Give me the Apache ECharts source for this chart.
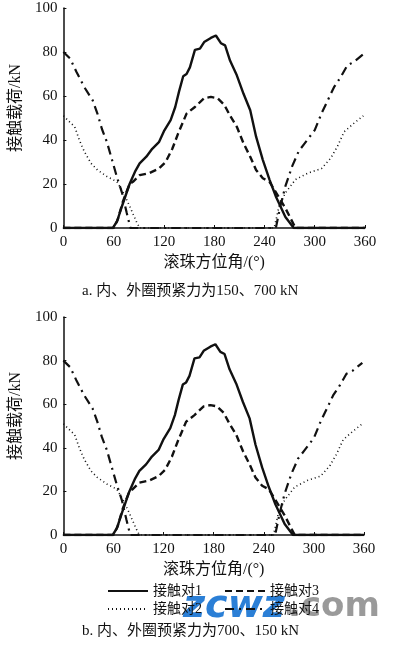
<!DOCTYPE html>
<html>
<head>
<meta charset="utf-8">
<script src="https://cdn.jsdelivr.net/npm/echarts@6/dist/echarts.min.js"></script>
<style>
  html, body { margin: 0; padding: 0; background: #fff; }
  #chart { width: 398px; height: 647px; }
</style>
</head>
<body>
<div id="chart"></div>
<script>
// 数据：[滚珠方位角(°), 接触载荷(kN)]
const pair1 = [[0,0],[59,0],[64,3],[70,10],[79,20],[86,26],[91,29.4],[99,32.4],[106,36],[114,39],[120,44],[128,49],[133.5,55],[138,62],[143,69],[147,70],[151,73],[157,81],[163,81.5],[168,84.5],[176,86.4],[182,87.5],[188,84],[193,83],[199,76],[207,69.4],[215,61],[223,53.5],[230,41.5],[238,31],[246,22],[254,14],[265,5],[275,0],[360,0]];
const pair3 = [[0,0],[60,0],[65,4],[71,12],[79,20],[83,21],[91,24],[103,25],[114,27],[122,30],[130,36],[137,43],[147,52],[157,55],[168,59],[176,59.6],[184,59],[192,56],[199,51],[207,46],[215,38.5],[223,32.4],[230,26.4],[238,22.6],[246,21],[254,16],[265,9],[277,0],[360,0]];
const pair2 = [[0,51],[8,48],[13.5,46],[19,40],[25,34.7],[33,29.4],[40.6,26.4],[52,23.4],[64,21],[71.6,16],[79,10],[87,3],[91,0],[251.6,0],[257.5,10],[265,16],[277,22],[292,25],[308,27],[319,31.7],[327,37],[335,43.7],[346.5,47.5],[358,51]];
const pair4 = [[0,80],[8,77],[15.5,71],[25,64],[35,58],[40.6,52],[46,45],[52,39],[58,31],[64,23],[70,16],[75.5,7],[80,0],[253.6,0],[259,10],[265,19],[273,28],[281,35],[288,38.5],[300,44.5],[308,52],[317.5,59.6],[323,64],[331,68.6],[339,74],[346.5,75.4],[358,79]];

const xTicks = [0, 60, 120, 180, 240, 300, 360];
const yTicks = [0, 20, 40, 60, 80, 100];
const names = ['接触对1', '接触对2', '接触对3', '接触对4'];
const captions = ['a. 内、外圈预紧力为150、700 kN', 'b. 内、外圈预紧力为700、150 kN'];

const numFont = 'Liberation Serif';
const cjkFont = '"Liberation Serif", "Noto Sans CJK SC"';

const chart = echarts.init(document.getElementById('chart'));

const styles = [
  { type: 'solid', width: 2.4 },
  { type: [1, 3], width: 1.6 },
  { type: [7, 4], width: 2.4 },
  { type: [9, 5, 2, 5], width: 2.2 }
];
const datas = [pair1, pair2, pair3, pair4];

function axisX(i) {
  return {
    gridIndex: i, type: 'value', min: 0, max: 360, interval: 60,
    name: '滚珠方位角/(°)', nameLocation: 'middle', nameGap: 27,
    nameTextStyle: { fontFamily: cjkFont, fontSize: 16, color: '#111' },
    axisLine: { lineStyle: { color: '#111', width: 1.5 } },
    axisTick: { inside: true, length: 3, lineStyle: { color: '#111' } },
    axisLabel: { fontFamily: numFont, fontSize: 15, color: '#111', margin: 7 },
    splitLine: { show: false }
  };
}
function axisY(i) {
  return {
    gridIndex: i, type: 'value', min: 0, max: 100, interval: 20,
    name: '接触载荷/kN', nameLocation: 'middle', nameGap: 34, nameRotate: 90,
    nameTextStyle: { fontFamily: cjkFont, fontSize: 16, color: '#111', padding: [0, 0, 0, 20] },
    axisLine: { show: true, lineStyle: { color: '#111', width: 1.5 } },
    axisTick: { show: true, inside: true, length: 3, lineStyle: { color: '#111' } },
    axisLabel: { fontFamily: numFont, fontSize: 15, color: '#111', margin: 6 },
    splitLine: { show: false }
  };
}

const series = [];
for (let g = 0; g < 2; g++) {
  for (let k = 0; k < 4; k++) {
    series.push({
      name: names[k], type: 'line', xAxisIndex: g, yAxisIndex: g,
      data: datas[k], symbol: 'none', smooth: false,
      lineStyle: { color: '#111', type: styles[k].type, width: styles[k].width },
      itemStyle: { color: '#111' }
    });
  }
}

const legendBase = {
  left: 102, itemWidth: 40, itemHeight: 12, itemGap: 22,
  itemStyle: { opacity: 0 },
  textStyle: { fontFamily: cjkFont, fontSize: 14, color: '#111' }
};

const option = {
  animation: false,
  backgroundColor: '#fff',
  grid: [
    { left: 55, top: 8, width: 310, height: 220 },
    { left: 54, top: 317, width: 310, height: 218 }
  ],
  xAxis: [axisX(0), axisX(1)],
  yAxis: [axisY(0), axisY(1)],
  legend: [
    Object.assign({ data: ['接触对1', '接触对3'], top: 579 }, legendBase),
    Object.assign({ data: ['接触对2', '接触对4'], top: 597 }, legendBase)
  ],
  graphic: [
    { type: 'text', left: 82, top: 284, style: { text: captions[0], font: '15px ' + cjkFont, fill: '#111' } },
    { type: 'text', left: 82, top: 624, style: { text: captions[1], font: '15px ' + cjkFont, fill: '#111' } },
    { type: 'text', left: 183, top: 588, style: { text: 'zcwz', font: 'italic bold 38px "DejaVu Sans"', fill: '#2b7fd6' } },
    { type: 'text', left: 288, top: 590, style: { text: '.com', font: 'bold 34px "DejaVu Sans"', fill: '#9a9a9a' } }
  ],
  series: series
};
chart.setOption(option);
</script>
</body>
</html>
